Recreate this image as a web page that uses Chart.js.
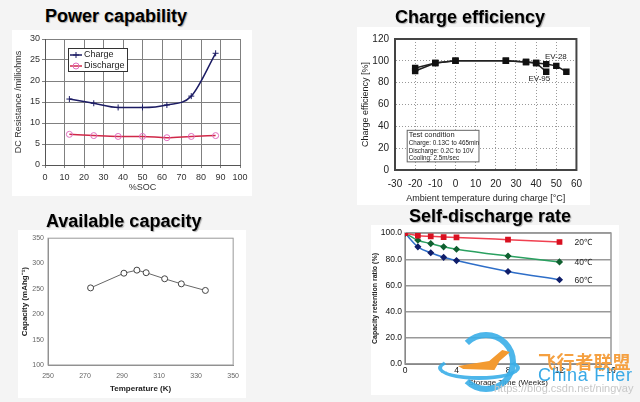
<!DOCTYPE html>
<html>
<head>
<meta charset="utf-8">
<script src="https://cdn.jsdelivr.net/npm/chart.js@4.4.0/dist/chart.umd.min.js"></script>
<style>
body { margin:0; background:#f4f4f4; width:640px; height:402px; overflow:hidden; position:relative; font-family:"Liberation Sans", Arial, sans-serif; }
canvas { position:absolute; background:#fff; }
.ttl { position:absolute; z-index:3; font:bold 18px "Liberation Sans", Arial, sans-serif; line-height:18px; color:#000; white-space:nowrap; text-shadow:1px 1px 1px rgba(0,0,0,0.3); }
.wm { position:absolute; white-space:nowrap; z-index:5; }
</style>
</head>
<body>
<div class="ttl" style="left:45px; top:7px;">Power capability</div>
<div class="ttl" style="left:395px; top:8px;">Charge efficiency</div>
<div class="ttl" style="left:46px; top:212px;">Available capacity</div>
<div class="ttl" style="left:409px; top:207px;">Self-discharge rate</div>

<canvas id="c1" width="240" height="166" style="left:12px; top:30px;"></canvas>
<canvas id="c2" width="233" height="178" style="left:357px; top:27px;"></canvas>
<canvas id="c3" width="228" height="168" style="left:18px; top:230px;"></canvas>
<canvas id="c4" width="248" height="170" style="left:371px; top:225px;"></canvas>

<div class="wm" style="left:456px; top:332px; width:48px; height:48px; border:6px solid #3aaee8; border-left-color:transparent; border-radius:50%; opacity:0.9;"></div>
<div class="wm" style="left:438px; top:356px; width:74px; height:16px; border:4px solid #3aaee8; border-top-color:transparent; border-radius:50%; opacity:0.9;"></div>
<div class="wm" style="left:458px; top:350px; width:52px; height:20px; background:#f39a30; clip-path:polygon(0 80%, 60% 55%, 85% 0, 100% 10%, 80% 55%, 70% 100%, 10% 95%);"></div>
<div class="wm" style="left:538px; top:348px; font:bold 18px 'Noto Sans CJK SC'; letter-spacing:0.6px; color:#f5a040;">飞行者联盟</div>
<div class="wm" style="left:538px; top:365px; font:18px 'Liberation Sans', Arial; letter-spacing:0.7px; color:#39a9e6;">China Flier</div>
<div class="wm" style="left:494px; top:382px; font:11px 'Liberation Sans', Arial; color:#c8c8c8;">https://blog.csdn.net/ningvay</div>

<script>
// power capability
const socX = [12.5, 25, 37.5, 50, 62.5, 75, 87.5];
const chargeRes = [15.7, 14.7, 13.7, 13.7, 14.3, 16.4, 26.6];
const dischargeRes = [7.3, 7.0, 6.8, 6.8, 6.5, 6.8, 7.0];

// charge efficiency
const ev28Temp = [-20, -10, 0, 25, 35, 40, 45, 50, 55];
const ev28Eff = [93.5, 98, 100, 100, 99, 98, 97, 95.4, 90];
const ev95Temp = [-20, -10, 0, 25, 35, 40, 45];
const ev95Eff = [90.7, 98, 100, 100, 99, 98, 90];
const testLines = ['Test condition', 'Charge: 0.13C to 465min', 'Discharge: 0.2C to 10V', 'Cooling: 2.5m/sec'];

// available capacity
const capTempK = [273, 291, 298, 303, 313, 322, 335];
const capValue = [252, 281, 287, 282, 270, 260, 247];

// self-discharge
const weeks = [0, 1, 2, 3, 4, 8, 12];
const ret20 = [100, 98, 97.5, 97, 96.7, 95, 93.2];
const ret40 = [100, 94.5, 92, 89.5, 87.7, 82.5, 78];
const ret60 = [100, 89.5, 85, 81.5, 79, 70.7, 64.4];
const retLabels = ['20℃', '40℃', '60℃'];

Chart.defaults.font.family = '"Liberation Sans", Arial, sans-serif';
Chart.defaults.animation = false;
Chart.defaults.responsive = false;
Chart.defaults.devicePixelRatio = 1;
Chart.defaults.plugins.legend.display = false;
Chart.defaults.plugins.tooltip.enabled = false;

function pts(xs, ys) { return xs.map((x, i) => ({x: x, y: ys[i]})); }

function boxPlugin(color, width) {
  return {
    id: 'plotBox',
    beforeDatasetsDraw(chart) {
      const a = chart.chartArea, ctx = chart.ctx;
      ctx.save();
      ctx.strokeStyle = color; ctx.lineWidth = width;
      ctx.strokeRect(a.left, a.top, a.right - a.left, a.bottom - a.top);
      ctx.restore();
    }
  };
}

const powerLegend = {
  id: 'powerLegend',
  afterDraw(chart) {
    const ctx = chart.ctx, a = chart.chartArea;
    const x = a.left + 23, y = a.top + 9;
    ctx.save();
    ctx.fillStyle = '#fff';
    ctx.fillRect(x, y, 59, 23);
    ctx.strokeStyle = '#333'; ctx.lineWidth = 1;
    ctx.strokeRect(x + 0.5, y + 0.5, 59, 23);
    chart.data.datasets.forEach((ds, i) => {
      const ly = y + 7 + i * 11;
      ctx.strokeStyle = ds.borderColor; ctx.lineWidth = 1.5;
      ctx.beginPath(); ctx.moveTo(x + 2, ly); ctx.lineTo(x + 14, ly); ctx.stroke();
      ctx.strokeStyle = ds.pointBorderColor; ctx.lineWidth = 1;
      ctx.fillStyle = 'rgba(255,255,255,0)';
      Chart.helpers.drawPoint(ctx, {pointStyle: ds.pointStyle, radius: 3, rotation: 0, borderWidth: 1}, x + 8, ly);
      ctx.fillStyle = '#222'; ctx.font = '9px "Liberation Sans", Arial';
      ctx.textBaseline = 'middle';
      ctx.fillText(ds.label, x + 16, ly);
    });
    ctx.restore();
  }
};

new Chart(document.getElementById('c1'), {
  type: 'line',
  data: {
    datasets: [
      { label: 'Charge', data: pts(socX, chargeRes), borderColor: '#1c1c64', borderWidth: 1.5,
        pointStyle: 'cross', pointRadius: 3, pointBorderColor: '#1c1c64', pointBorderWidth: 1,
        cubicInterpolationMode: 'monotone' },
      { label: 'Discharge', data: pts(socX, dischargeRes), borderColor: '#d02848', borderWidth: 1.5,
        pointStyle: 'circle', pointRadius: 3, pointBorderColor: '#e070c0', pointBackgroundColor: 'rgba(255,255,255,0)',
        pointBorderWidth: 1, cubicInterpolationMode: 'monotone' }
    ]
  },
  options: {
    layout: { padding: { left: 1, right: 12, top: 9, bottom: 3 } },
    scales: {
      x: { type: 'linear', min: 0, max: 100,
        ticks: { stepSize: 10, font: { size: 9 }, color: '#333', padding: 4, maxRotation: 0 },
        grid: { color: '#808080', tickLength: 3 }, border: { color: '#555' },
        title: { display: true, text: '%SOC', font: { size: 9 }, color: '#333', padding: 0 },
        afterFit: s => { s.height = 28; } },
      y: { min: 0, max: 30,
        ticks: { stepSize: 5, font: { size: 9 }, color: '#333', padding: 2 },
        grid: { color: '#808080', tickLength: 3 }, border: { color: '#555' },
        title: { display: true, text: 'DC Resistance /milliohms', font: { size: 9 }, color: '#333', padding: 0 },
        afterFit: s => { s.width = 32; } }
    }
  },
  plugins: [powerLegend]
});

const effNotes = {
  id: 'effNotes',
  afterDraw(chart) {
    const ctx = chart.ctx, sx = chart.scales.x, sy = chart.scales.y;
    ctx.save();
    ctx.fillStyle = '#222'; ctx.textBaseline = 'middle';
    ctx.font = '8px "Liberation Sans", Arial';
    ctx.fillText('EV-28', sx.getPixelForValue(44.4), sy.getPixelForValue(103.4));
    ctx.fillText('EV-95', sx.getPixelForValue(36.2), sy.getPixelForValue(83.2));
    const bx = sx.getPixelForValue(-24.2), by = sy.getPixelForValue(36.8);
    const bw = sx.getPixelForValue(11.4) - bx, bh = sy.getPixelForValue(7.9) - by;
    ctx.fillStyle = '#fff';
    ctx.fillRect(bx, by, bw, bh);
    ctx.strokeStyle = '#666'; ctx.lineWidth = 1;
    ctx.strokeRect(bx + 0.5, by + 0.5, bw, bh);
    ctx.fillStyle = '#222';
    testLines.forEach((t, i) => {
      ctx.font = (i === 0 ? '7.5px' : '6.3px') + ' "Liberation Sans", Arial';
      ctx.fillText(t, bx + 2, by + 5 + i * 7.5 + (i > 0 ? 1 : 0));
    });
    ctx.restore();
  }
};

new Chart(document.getElementById('c2'), {
  type: 'line',
  data: {
    datasets: [
      { label: 'EV-28', data: pts(ev28Temp, ev28Eff), borderColor: '#222', borderWidth: 1.5,
        pointStyle: 'rect', pointRadius: 3.5, pointBackgroundColor: '#111', pointBorderColor: '#111' },
      { label: 'EV-95', data: pts(ev95Temp, ev95Eff), borderColor: '#222', borderWidth: 1.5,
        pointStyle: 'rect', pointRadius: 3.5, pointBackgroundColor: '#111', pointBorderColor: '#111' }
    ]
  },
  options: {
    layout: { padding: { left: 3, right: 10, top: 6, bottom: 1 } },
    scales: {
      x: { type: 'linear', min: -30, max: 60,
        ticks: { stepSize: 10, font: { size: 10 }, color: '#222', padding: 8, maxRotation: 0 },
        grid: { color: '#999', drawTicks: false }, border: { color: '#444', width: 2, dash: [1, 2] },
        title: { display: true, text: 'Ambient temperature during charge [°C]', font: { size: 9 }, color: '#222', padding: 0 },
        afterFit: s => { s.height = 34; } },
      y: { min: 0, max: 120,
        ticks: { stepSize: 20, font: { size: 10 }, color: '#222', padding: 6 },
        grid: { color: '#999', drawTicks: false }, border: { color: '#444', width: 2, dash: [1, 2] },
        title: { display: true, text: 'Charge efficiency [%]', font: { size: 9 }, color: '#222', padding: 0 },
        afterFit: s => { s.width = 35; } }
    }
  },
  plugins: [boxPlugin('#444', 2), effNotes]
});

new Chart(document.getElementById('c3'), {
  type: 'line',
  data: {
    datasets: [
      { label: 'Capacity', data: pts(capTempK, capValue), borderColor: '#666', borderWidth: 1,
        pointStyle: 'circle', pointRadius: 3, pointBackgroundColor: '#fff', pointBorderColor: '#444', pointBorderWidth: 1 }
    ]
  },
  options: {
    layout: { padding: { left: 2, right: 8, top: 6, bottom: 4 } },
    scales: {
      x: { type: 'linear', min: 250, max: 350,
        ticks: { stepSize: 20, font: { size: 7 }, color: '#666', padding: 7, maxRotation: 0 },
        grid: { display: false, drawTicks: false }, border: { color: '#888' },
        title: { display: true, text: 'Temperature (K)', font: { size: 8, weight: 'bold' }, color: '#222', padding: 0 },
        afterFit: s => { s.height = 29; } },
      y: { min: 100, max: 350,
        ticks: { stepSize: 50, font: { size: 7 }, color: '#666', padding: 4 },
        grid: { display: false, drawTicks: false }, border: { color: '#888' },
        title: { display: true, text: 'Capacity (mAhg⁻¹)', font: { size: 8, weight: 'bold' }, color: '#222', padding: 0 },
        afterFit: s => { s.width = 28; } }
    }
  },
  plugins: [boxPlugin('#999', 1)]
});

const retNotes = {
  id: 'retNotes',
  afterDraw(chart) {
    const ctx = chart.ctx, sx = chart.scales.x, sy = chart.scales.y;
    ctx.save();
    ctx.fillStyle = '#222'; ctx.textBaseline = 'middle';
    ctx.font = '8.5px "Liberation Sans", Arial';
    chart.data.datasets.forEach((ds, i) => {
      const last = ds.data[ds.data.length - 1];
      ctx.fillText(retLabels[i], sx.getPixelForValue(last.x) + 15, sy.getPixelForValue(last.y) + 1);
    });
    ctx.restore();
  }
};

new Chart(document.getElementById('c4'), {
  type: 'line',
  data: {
    datasets: [
      { label: '20', data: pts(weeks, ret20), borderColor: '#f04050', borderWidth: 1.5,
        pointStyle: 'rect', pointRadius: 3, pointBackgroundColor: '#d81020', pointBorderColor: '#d81020',
        cubicInterpolationMode: 'monotone' },
      { label: '40', data: pts(weeks, ret40), borderColor: '#2aa060', borderWidth: 1.5,
        pointStyle: 'rectRot', pointRadius: 2.5, pointBackgroundColor: '#106030', pointBorderColor: '#106030',
        cubicInterpolationMode: 'monotone' },
      { label: '60', data: pts(weeks, ret60), borderColor: '#2e6ec8', borderWidth: 1.5,
        pointStyle: 'rectRot', pointRadius: 2.5, pointBackgroundColor: '#101e6a', pointBorderColor: '#101e6a',
        cubicInterpolationMode: 'monotone' }
    ]
  },
  options: {
    layout: { padding: { left: 0, right: 8, top: 6, bottom: 7 } },
    scales: {
      x: { type: 'linear', min: 0, max: 16,
        ticks: { stepSize: 4, font: { size: 8.5 }, color: '#111', padding: 2, maxRotation: 0 },
        grid: { display: false, drawTicks: false }, border: { color: '#555' },
        title: { display: true, text: 'Storage Time (Weeks)', font: { size: 8 }, color: '#222', padding: 0 },
        afterFit: s => { s.height = 24; } },
      y: { min: 0, max: 100,
        ticks: { stepSize: 20, font: { size: 8.5 }, color: '#111', padding: 3, callback: v => v.toFixed(1) },
        grid: { color: '#999', lineWidth: 1.5, drawTicks: false }, border: { color: '#555' },
        title: { display: true, text: 'Capacity retention ratio (%)', font: { size: 7, weight: 'bold' }, color: '#222', padding: 0 },
        afterFit: s => { s.width = 34; } }
    }
  },
  plugins: [boxPlugin('#999', 1.5), retNotes]
});
</script>
</body>
</html>
